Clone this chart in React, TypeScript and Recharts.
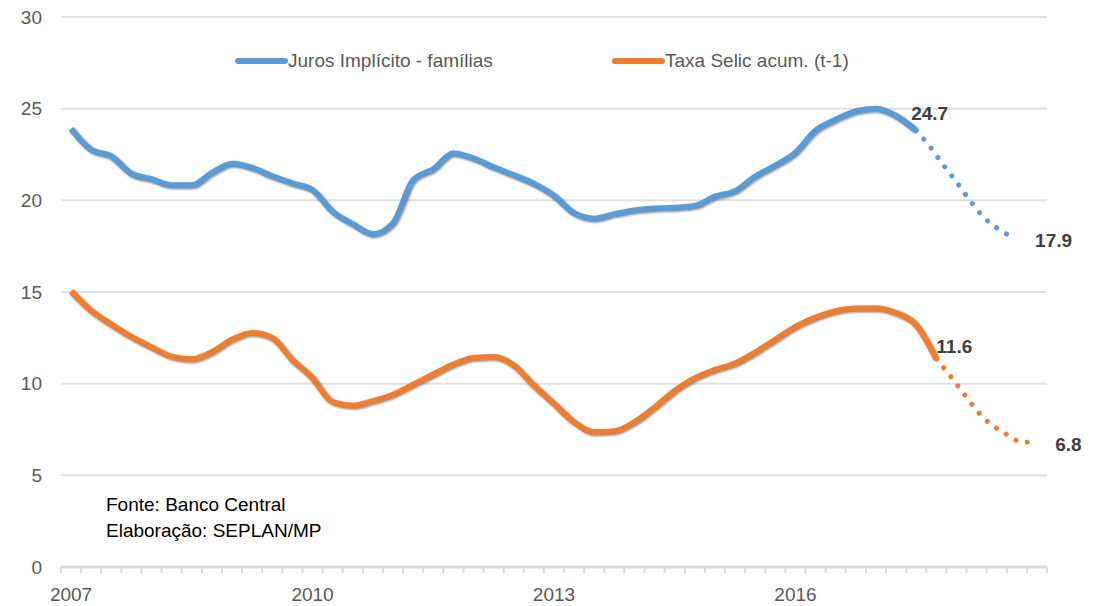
import React from 'react';
import { LineChart, Line, XAxis, YAxis, CartesianGrid, Legend } from 'recharts';

const FONT = '"Liberation Sans", Arial, sans-serif';

// months since Jan 2007
const quarterMonths = [0, 3, 6, 9, 12, 15, 18, 21, 24, 27, 30, 33, 36, 39, 42, 45, 48, 51, 54, 57, 60, 63, 66, 69, 72, 75, 78, 81, 84, 87, 90, 93, 96, 99, 102, 105, 108, 111, 114, 117, 120, 123, 126];
const jurosFamilias = [23.9, 22.76, 22.4, 21.45, 21.15, 20.82, 20.82, 21.5, 22.0, 21.77, 21.31, 20.92, 20.56, 19.38, 18.7, 18.15, 18.75, 21.1, 21.7, 22.55, 22.28, 21.8, 21.37, 20.9, 20.25, 19.3, 19.0, 19.25, 19.45, 19.55, 19.6, 19.7, 20.2, 20.5, 21.3, 21.9, 22.6, 23.8, 24.4, 24.85, 25.0, 24.6, 23.8];

const selicMonths = [0, 3, 6, 9, 12, 15, 18, 21, 24, 27, 30, 33, 36, 39, 42, 45, 48, 51, 54, 57, 60, 63, 66, 69, 72, 75, 78, 81, 84, 87, 90, 93, 96, 99, 102, 105, 108, 111, 114, 117, 120, 123, 126, 129];
const selicAcum = [15.05, 13.98, 13.23, 12.55, 11.98, 11.48, 11.33, 11.72, 12.4, 12.77, 12.5, 11.3, 10.3, 9.0, 8.8, 9.05, 9.4, 9.95, 10.5, 11.05, 11.4, 11.45, 11.0, 9.9, 8.9, 7.9, 7.35, 7.4, 7.9, 8.7, 9.6, 10.3, 10.75, 11.1, 11.7, 12.4, 13.1, 13.6, 13.95, 14.1, 14.1, 13.85, 13.2, 11.35];

const jurosProjMonths = [126, 128, 130, 132, 134, 136, 138, 140];
const jurosProj = [23.8, 22.95, 21.95, 21.0, 20.0, 19.1, 18.5, 18.05];

const selicProjMonths = [129, 131, 133, 135, 137, 139, 141, 143];
const selicProj = [11.35, 10.45, 9.5, 8.55, 7.82, 7.35, 6.9, 6.8];

const jurosEndLabel = '24.7';
const jurosProjEndLabel = '17.9';
const selicEndLabel = '11.6';
const selicProjEndLabel = '6.8';

const yTicks = [0, 5, 10, 15, 20, 25, 30];
const yearLabelMonths = [0, 36, 72, 108];
const yearLabels = ['2007', '2010', '2013', '2016'];
const tickMarkMonths = Array.from({ length: 50 }, (_, i) => -1.5 + 3 * i);

const BLUE = '#5B9BD5';
const ORANGE = '#ED7D31';

const toPoints = (ms: number[], vs: number[]) => ms.map((m, i) => ({ m, v: vs[i] }));
const jurosData = toPoints(quarterMonths, jurosFamilias);
const selicData = toPoints(selicMonths, selicAcum);
const jurosProjData = toPoints(jurosProjMonths, jurosProj);
const selicProjData = toPoints(selicProjMonths, selicProj);

const allTicks = [...tickMarkMonths, ...yearLabelMonths].sort((a, b) => a - b);

const XTick = (props: any) => {
  const { x, y, payload } = props;
  const idx = yearLabelMonths.indexOf(payload.value);
  if (idx >= 0) {
    return (
      <text x={x} y={y + 34} textAnchor="middle" fill="#595959" fontSize={19} fontFamily={FONT}>
        {yearLabels[idx]}
      </text>
    );
  }
  return <line x1={x} y1={y} x2={x} y2={y + 6} stroke="#d9d9d9" strokeWidth={2} />;
};

const makeEndLabel = (text: string, lastIndex: number, dx: number, dy: number) => (props: any) => {
  const { x, y, index } = props;
  if (index !== lastIndex) return <g />;
  return (
    <text
      x={x + dx}
      y={y + dy}
      textAnchor="start"
      dominantBaseline="central"
      fill="#404040"
      fontSize={19}
      fontWeight="bold"
      fontFamily={FONT}
    >
      {text}
    </text>
  );
};

const legendLefts = [235, 612];

const renderLegend = (props: any) => {
  const items = (props.payload || []).filter((p: any) => p.type !== 'none');
  return (
    <div style={{ position: 'relative', height: 0, width: 1097 }}>
      {items.map((p: any, i: number) => (
        <div
          key={p.value}
          style={{
            position: 'absolute',
            left: legendLefts[i],
            top: 50,
            display: 'flex',
            alignItems: 'center',
            whiteSpace: 'nowrap',
            fontFamily: FONT,
            fontSize: 19,
            color: '#595959',
          }}
        >
          <svg width={53} height={10} style={{ display: 'block' }}>
            <line x1={3} y1={5} x2={50} y2={5} stroke={p.color} strokeWidth={6} strokeLinecap="round" />
          </svg>
          <span>{p.value}</span>
        </div>
      ))}
    </div>
  );
};

export default function App() {
  return (
    <div style={{ position: 'absolute', left: 0, top: 0, width: 1097, height: 606, background: '#fff' }}>
      <style>{'.shadow-line .recharts-line-curve{filter:drop-shadow(1px 1.5px 0.8px rgba(0,0,0,0.45));}'}</style>
      <LineChart width={1097} height={606} margin={{ top: 17, right: 50, left: 0, bottom: 0 }}>
        <CartesianGrid vertical={false} stroke="#e0e0e0" strokeWidth={2} />
        <XAxis
          type="number"
          dataKey="m"
          domain={[-1.5, 145.5]}
          ticks={allTicks}
          interval={0}
          tick={<XTick />}
          tickLine={false}
          tickSize={0}
          tickMargin={0}
          height={39}
          axisLine={{ stroke: '#d9d9d9', strokeWidth: 3 }}
          allowDataOverflow
        />
        <YAxis
          type="number"
          domain={[0, 30]}
          ticks={yTicks}
          interval={0}
          width={61}
          axisLine={false}
          tickLine={false}
          tickSize={0}
          tickMargin={19}
          tick={{ fill: '#595959', fontSize: 19, fontFamily: FONT }}
        />
        <Legend verticalAlign="top" content={renderLegend} wrapperStyle={{ top: 0, left: 0, height: 0 }} />
        <Line
          data={jurosData}
          dataKey="v"
          name="Juros Implícito - famílias"
          type="monotone"
          stroke={BLUE}
          strokeWidth={6}
          dot={false}
          className="shadow-line"
          isAnimationActive={false}
          label={makeEndLabel(jurosEndLabel, jurosData.length - 1, -5, -17)}
        />
        <Line
          data={jurosProjData}
          dataKey="v"
          name="Juros proj"
          legendType="none"
          type="monotone"
          stroke={BLUE}
          strokeWidth={5}
          strokeDasharray="0.1 11.4"
          strokeLinecap="round"
          dot={false}
          isAnimationActive={false}
          label={makeEndLabel(jurosProjEndLabel, jurosProjData.length - 1, 25, 4)}
        />
        <Line
          data={selicData}
          dataKey="v"
          name="Taxa Selic acum. (t-1)"
          type="monotone"
          stroke={ORANGE}
          strokeWidth={6}
          dot={false}
          className="shadow-line"
          isAnimationActive={false}
          label={makeEndLabel(selicEndLabel, selicData.length - 1, 0, -12)}
        />
        <Line
          data={selicProjData}
          dataKey="v"
          name="Selic proj"
          legendType="none"
          type="monotone"
          stroke={ORANGE}
          strokeWidth={5}
          strokeDasharray="0.1 11.4"
          strokeLinecap="round"
          dot={false}
          isAnimationActive={false}
          label={makeEndLabel(selicProjEndLabel, selicProjData.length - 1, 25, 2)}
        />
      </LineChart>
      <svg width={1097} height={606} style={{ position: 'absolute', left: 0, top: 0, pointerEvents: 'none' }}>
        <text x={106} y={511} fontSize={19} fontFamily={FONT} fill="#000">Fonte: Banco Central</text>
        <text x={106} y={537} fontSize={19} fontFamily={FONT} fill="#000">Elaboração: SEPLAN/MP</text>
      </svg>
    </div>
  );
}
